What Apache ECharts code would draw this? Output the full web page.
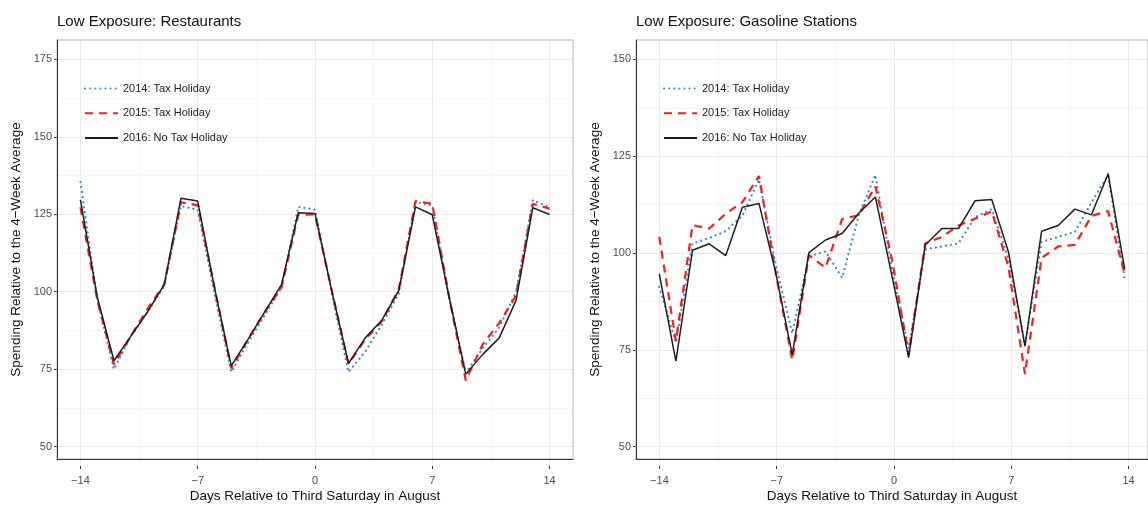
<!DOCTYPE html>
<html>
<head>
<meta charset="utf-8">
<script src="https://cdn.jsdelivr.net/npm/echarts@6/dist/echarts.min.js"></script>
<style>
  html, body { margin: 0; padding: 0; background: #fff; }
  #chart { width: 1148px; height: 508px; }
</style>
</head>
<body>
<div id="chart"></div>
<script>
// days relative to third Saturday in August
var days = [-14, -13, -12, -11, -10, -9, -8, -7, -6, -5, -4, -3, -2, -1, 0,
            1, 2, 3, 4, 5, 6, 7, 8, 9, 10, 11, 12, 13, 14];
var xTicks = [-14, -7, 0, 7, 14];
var yTicksRestaurants = [50, 75, 100, 125, 150, 175];
var yTicksGas = [50, 75, 100, 125, 150];
var seriesNames = ['2014: Tax Holiday', '2015: Tax Holiday', '2016: No Tax Holiday'];

var restaurants2014 = [134.7, 96, 73.2, 84, 92, 100.5, 126.8, 125.5, 98, 72.3, 82, 91, 100, 126.5, 125.6,
                       98, 72.3, 79, 88, 98, 128, 127, 97, 72, 80, 87, 98.5, 128.7, 126.3];
var restaurants2015 = [126.4, 96, 74.8, 84, 93, 101, 128, 127, 100, 73.5, 83, 92, 100, 123.9, 124,
                       99, 75, 83, 89, 99.5, 128.4, 127.5, 97, 69.5, 81.3, 88.4, 97.4, 127.5, 125.9];
var restaurants2016 = [128.8, 97, 76, 84, 92, 101, 129.3, 128.4, 100, 74.3, 83, 92, 101, 124.6, 124.3,
                       99, 75.1, 83.5, 89.4, 99, 126.5, 123.9, 97, 71.6, 78, 83.5, 95.8, 126.2, 124];

var gas2014 = [90.2, 75.5, 101.6, 103, 104.8, 108.9, 118.4, 96.2, 78, 98.2, 99.5, 92.6, 109, 119.6, 95,
               74, 100, 100.8, 101.6, 108.5, 110.6, 97.7, 75, 102, 103.3, 104.6, 112.4, 119.5, 92.2];
var gas2015 = [103.3, 76, 106.4, 105.5, 109.4, 112.4, 119.3, 94, 71, 98.5, 95.2, 108, 109, 116.6, 97.4,
               72.4, 101.6, 103.3, 106.3, 108.1, 110, 95.5, 67.3, 97.8, 100.8, 101.2, 108.8, 110.1, 93.5];
var gas2016 = [93.6, 70.7, 99.8, 101.5, 98.4, 111.1, 112.1, 94, 72.4, 99.2, 102.5, 104.2, 109.5, 113.8, 93,
               71.6, 101.2, 105.5, 105.5, 112.8, 113.1, 99.5, 74.6, 104.8, 106.3, 110.6, 109.1, 119.9, 94.8];

var FONT = '"Liberation Sans", Arial, sans-serif';
var lineStyles = [
    { color: '#3a86cc', width: 2.2, type: [0.1, 5], cap: 'round' },
    { color: '#f02020', width: 2.2, type: [8, 6] },
    { color: '#1e1e1e', width: 1.5, type: 'solid' }
];

var chart = echarts.init(document.getElementById('chart'));
var grids = [], xAxes = [], yAxes = [], series = [], titles = [], legends = [];

function fmt(v) {
    return v < 0 ? '\u2212' + Math.abs(v) : String(v);
}

function addPanel(left, title, yTicks, lines) {
    var T = 40, H = 426, W = 516;
    var x0 = xTicks[0], x1 = xTicks[xTicks.length - 1];
    var y0 = yTicks[0], y1 = yTicks[yTicks.length - 1];
    var xpad = (x1 - x0) * 0.05, ypad = (y1 - y0) * 0.05;
    var xppu = W / (x1 - x0 + 2 * xpad), yppu = H / (y1 - y0 + 2 * ypad);

    // grid for vertical gridlines + x ticks
    var gx = grids.length;
    grids.push({ left: left + xpad * xppu, top: T, width: (x1 - x0) * xppu, height: H });
    // grid for horizontal gridlines + y ticks
    var gy = grids.length;
    grids.push({ left: left, top: T + ypad * yppu, width: W, height: (y1 - y0) * yppu });
    // main plotting grid
    var gm = grids.length;
    grids.push({ left: left, top: T, width: W, height: H, show: true, z: 1,
                 borderColor: '#b3b3b3', borderWidth: 1, backgroundColor: 'transparent' });

    xAxes.push({
        gridIndex: gx, type: 'value', min: x0, max: x1, interval: xTicks[1] - xTicks[0],
        axisLine: { show: false },
        axisTick: { show: true, length: 3, lineStyle: { color: '#333' } },
        axisLabel: { margin: 9, fontSize: 11, color: '#4d4d4d', fontFamily: FONT, formatter: fmt },
        splitLine: { show: true, lineStyle: { color: '#ebebeb', width: 1 } },
        minorTick: { show: false, splitNumber: 2 },
        minorSplitLine: { show: true, lineStyle: { color: '#f5f5f5', width: 1 } }
    });
    yAxes.push({ gridIndex: gx, type: 'value', show: false, min: 0, max: 1 });

    xAxes.push({ gridIndex: gy, type: 'value', show: false, min: 0, max: 1 });
    yAxes.push({
        gridIndex: gy, type: 'value', min: y0, max: y1, interval: yTicks[1] - yTicks[0],
        axisLine: { show: false },
        axisTick: { show: true, length: 3, lineStyle: { color: '#333' } },
        axisLabel: { margin: 5, fontSize: 11, color: '#4d4d4d', fontFamily: FONT },
        splitLine: { show: true, lineStyle: { color: '#ebebeb', width: 1 } },
        minorTick: { show: false, splitNumber: 2 },
        minorSplitLine: { show: true, lineStyle: { color: '#f5f5f5', width: 1 } }
    });

    var mx = xAxes.length;
    xAxes.push({
        gridIndex: gm, type: 'value', min: x0 - xpad, max: x1 + xpad, z: 2,
        axisLine: { show: true, onZero: false, lineStyle: { color: '#333', width: 1 } },
        axisTick: { show: false }, axisLabel: { show: false }, splitLine: { show: false },
        name: 'Days Relative to Third Saturday in August', nameLocation: 'middle', nameGap: 30,
        nameTextStyle: { fontSize: 13.5, color: '#111', fontFamily: FONT }
    });
    var my = yAxes.length;
    yAxes.push({
        gridIndex: gm, type: 'value', min: y0 - ypad, max: y1 + ypad, z: 2,
        axisLine: { show: true, onZero: false, lineStyle: { color: '#333', width: 1 } },
        axisTick: { show: false }, axisLabel: { show: false }, splitLine: { show: false },
        name: 'Spending Relative to the 4\u2212Week Average', nameLocation: 'middle', nameGap: 34,
        nameTextStyle: { fontSize: 13.5, color: '#111', fontFamily: FONT }
    });

    lines.forEach(function (vals, i) {
        series.push({
            name: seriesNames[i], type: 'line', xAxisIndex: mx, yAxisIndex: my,
            data: days.map(function (d, k) { return [d, vals[k]]; }),
            symbol: 'none', silent: true, animation: false,
            lineStyle: lineStyles[i], itemStyle: { color: lineStyles[i].color }
        });
    });

    titles.push({
        text: title, left: left - 5, top: 9,
        textStyle: { fontSize: 15, fontWeight: 'normal', color: '#111', fontFamily: FONT }
    });
    legends.push({
        data: seriesNames, orient: 'vertical', left: left + 22, top: 78,
        itemWidth: 33, itemHeight: 14, itemGap: 13.5, selectedMode: false,
        itemStyle: { opacity: 0 },
        textStyle: { fontSize: 11, color: '#222', fontFamily: FONT }
    });
}

addPanel(57, 'Low Exposure: Restaurants', yTicksRestaurants,
         [restaurants2014, restaurants2015, restaurants2016]);
addPanel(636, 'Low Exposure: Gasoline Stations', yTicksGas,
         [gas2014, gas2015, gas2016]);

chart.setOption({
    backgroundColor: '#fff',
    animation: false,
    title: titles,
    legend: legends,
    grid: grids,
    xAxis: xAxes,
    yAxis: yAxes,
    series: series
});
</script>
</body>
</html>
